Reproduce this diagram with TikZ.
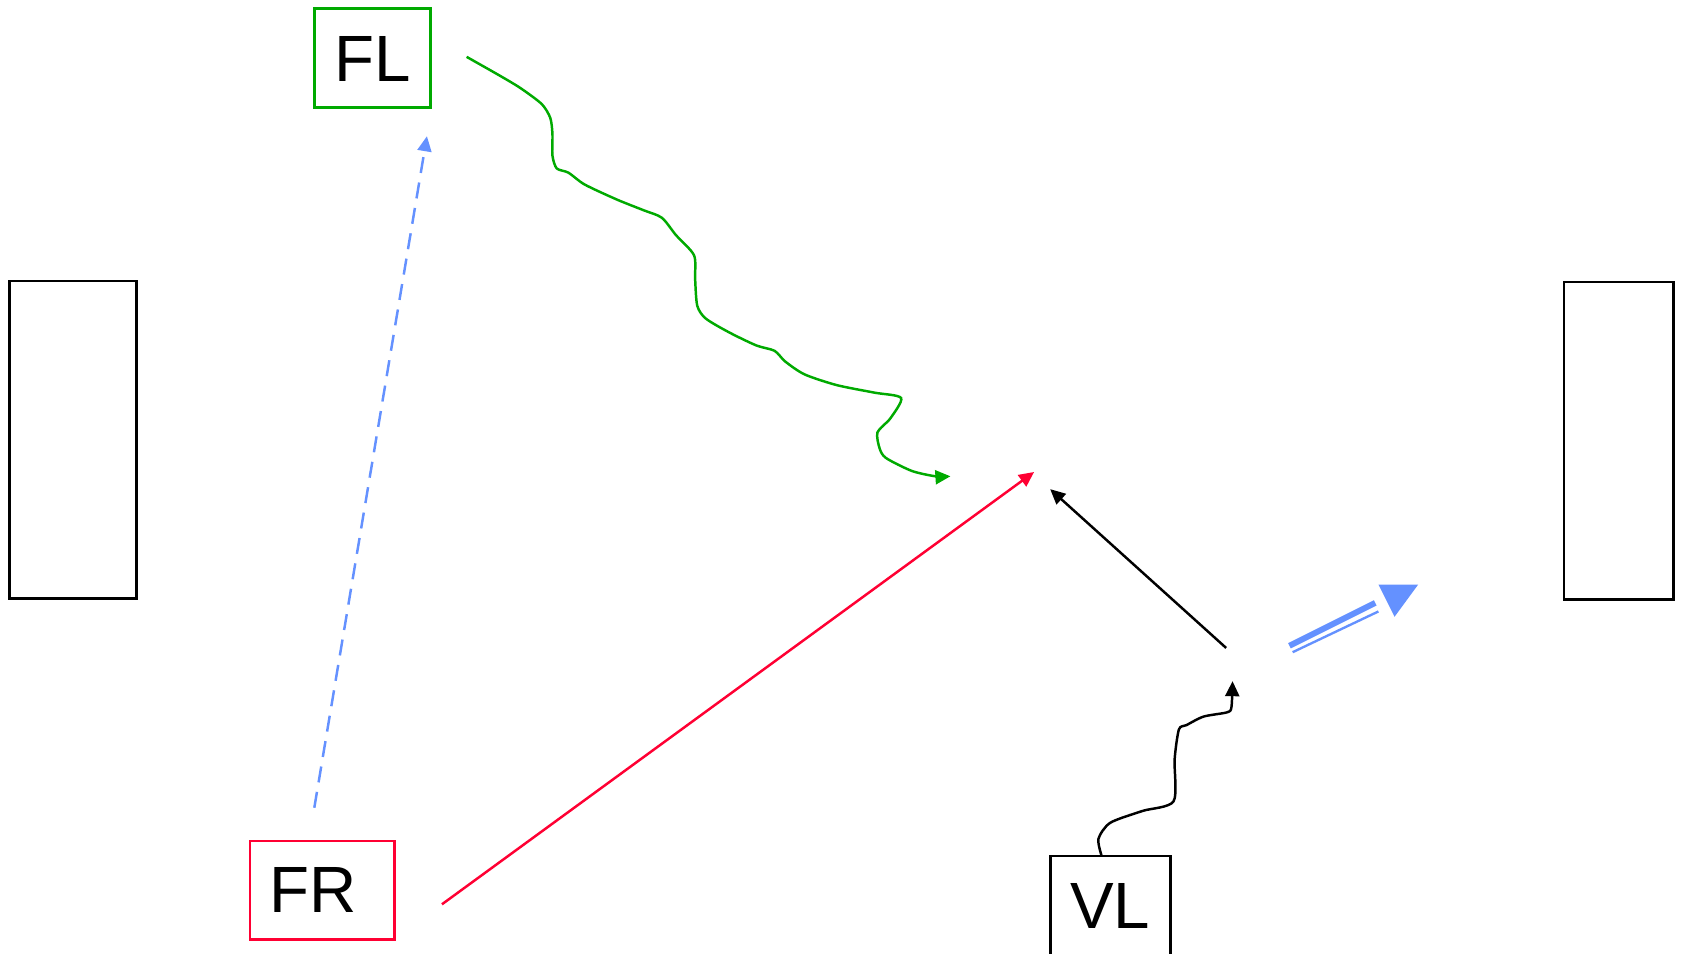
\documentclass[tikz,border=0pt]{standalone}
\usepackage{fontspec}
\setmainfont{Liberation Sans}
\usetikzlibrary{arrows.meta}
\definecolor{cgreen}{RGB}{0,170,0}
\definecolor{cred}{RGB}{255,0,51}
\definecolor{cblue}{RGB}{100,145,255}
\tikzset{
  box/.style={draw, line width=2.5pt, inner sep=0pt, font=\fontsize{61}{61}\selectfont},
  conn/.style={line width=2.3pt},
  tip/.style={-{Triangle[length=14pt,width=13pt]}},
}
\begin{document}
\begin{tikzpicture}[x=1pt,y=-1pt]
\useasboundingbox (0,0) rectangle (1568,889);
% boxes
\node[box, cgreen, minimum width=108pt, minimum height=92pt] (fl) at (347,54) {};
\node[font=\fontsize{61}{61}\selectfont] (fltext) at (347,55) {FL};
\node[box, cred, minimum width=135pt, minimum height=92pt] (fr) at (300.5,830) {};
\node[font=\fontsize{61}{61}\selectfont] (frtext) at (292,830) {FR};
\node[box, black, minimum width=112pt, minimum height=110pt] (vl) at (1035,853) {};
\node[font=\fontsize{61}{61}\selectfont] (vltext) at (1035,845) {VL};
\node[box, black, minimum width=118pt, minimum height=296pt] (lrect) at (68,410) {};
\node[box, black, minimum width=102pt, minimum height=296pt] (rrect) at (1509,411) {};
% free ends
\coordinate (g0) at (435,53);
\coordinate (g1) at (886,444);
\coordinate (b0) at (293,753);
\coordinate (b1) at (398,127);
\coordinate (r0) at (412,843);
\coordinate (r1) at (964,440);
\coordinate (k0) at (1143,604);
\coordinate (k1) at (979,456);
\coordinate (v0) at (1027,798);
\coordinate (v1) at (1149,635);
% green snake
\draw[conn, cgreen, tip] plot[smooth, tension=0.45] coordinates {
 (g0) (465,70) (485,82) (505,97) (513,110) (515,125) (515,145) (519,157) (530,161)
 (545,172) (575,186) (600,196) (617,203) (630,219) (647,238) (648,260) (650,285)
 (658,297) (680,310) (705,322) (722,327) (732,337) (750,349) (780,359) (815,366)
 (840,371) (830,390) (818,403) (820,418) (826,427) (850,439) (872,444) (g1)};
% blue dashed
\draw[conn, cblue, dash pattern=on 15pt off 9pt, tip] (b0) -- (b1);
% red
\draw[conn, cred, tip] (r0) -- (r1);
% black straight
\draw[conn, black, tip] (k0) -- (k1);
% black snake
\draw[conn, black, tip] plot[smooth, tension=0.45] coordinates {
 (v0) (1024,782) (1035,767) (1065,756) (1094,747) (1095,708) (1099,680) (1106,676)
 (1122,668) (1144,664) (1148,659) (v1)};
% blue double arrow
\coordinate (d0) at (1202,602);
\coordinate (d1) at (1282,562);
\coordinate (e0) at (1205,608);
\coordinate (e1) at (1285,570);
\draw[cblue, line width=5.5pt] (d0) -- (d1);
\draw[cblue, line width=2.2pt] (e0) -- (e1);
\fill[cblue] (1285,545) -- (1322,545) -- (1300,575) -- cycle;
\end{tikzpicture}
\end{document}
